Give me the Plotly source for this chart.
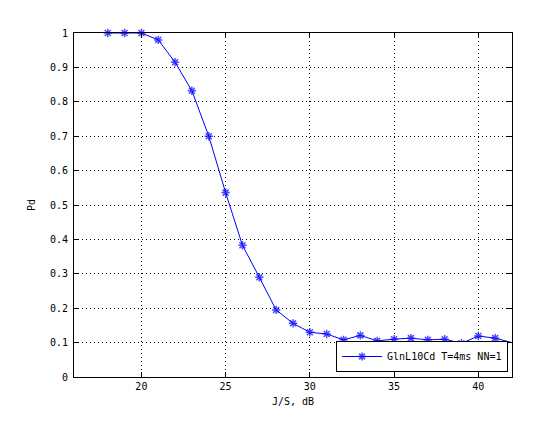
import plotly.graph_objects as go

js_db = [18, 19, 20, 21, 22, 23, 24, 25, 26, 27, 28, 29, 30, 31, 32, 33, 34, 35,
         36, 37, 38, 39, 40, 41, 43]
pd_vals = [1.0, 1.0, 1.0, 0.98, 0.915, 0.832, 0.70, 0.536, 0.383, 0.29, 0.195,
           0.156, 0.13, 0.125, 0.108, 0.121, 0.105, 0.11, 0.113, 0.108, 0.11,
           0.098, 0.119, 0.113, 0.087]
x_ticks = [20, 25, 30, 35, 40]
y_ticks = [0, 0.1, 0.2, 0.3, 0.4, 0.5, 0.6, 0.7, 0.8, 0.9, 1]
y_labels = ["0", "0.1", "0.2", "0.3", "0.4", "0.5", "0.6", "0.7", "0.8", "0.9", "1"]
series_name = "GlnL10Cd T=4ms NN=1"

font = dict(family="DejaVu Sans Mono", size=10, color="black")
x_max = 42
marker_sizes = [7 if x <= x_max else 0 for x in js_db]

fig = go.Figure()
fig.add_trace(go.Scatter(
    x=js_db, y=pd_vals, mode="lines+markers", name=series_name,
    line=dict(color="#0000ff", width=1),
    marker=dict(symbol="asterisk-open", size=marker_sizes, color="#0000ff",
                line=dict(color="#0000ff", width=1.5)),
    cliponaxis=False,
))

axis_common = dict(
    showline=True, linecolor="black", linewidth=1, mirror="ticks",
    ticks="inside", ticklen=5, tickcolor="black", tickwidth=1,
    showgrid=True, gridcolor="black", gridwidth=1, griddash="1px,3px",
    zeroline=False, tickfont=font,
)

fig.update_layout(
    width=551, height=413,
    margin=dict(l=66, r=47, t=25, b=44),
    paper_bgcolor="white", plot_bgcolor="white",
    font=font,
    showlegend=True,
    legend=dict(x=0.991, y=0.0145, xanchor="right", yanchor="bottom",
                bgcolor="white", bordercolor="black", borderwidth=1,
                font=font, itemwidth=40, tracegroupgap=0),
    xaxis=dict(range=[16, x_max], tickvals=x_ticks,
               title=dict(text="J/S, dB", font=font, standoff=6), **axis_common),
    yaxis=dict(range=[0, 1], tickvals=y_ticks, ticktext=y_labels,
               ticklabelstandoff=3,
               title=dict(text="Pd", font=font, standoff=12), **axis_common),
)

fig.write_html("out.html")
